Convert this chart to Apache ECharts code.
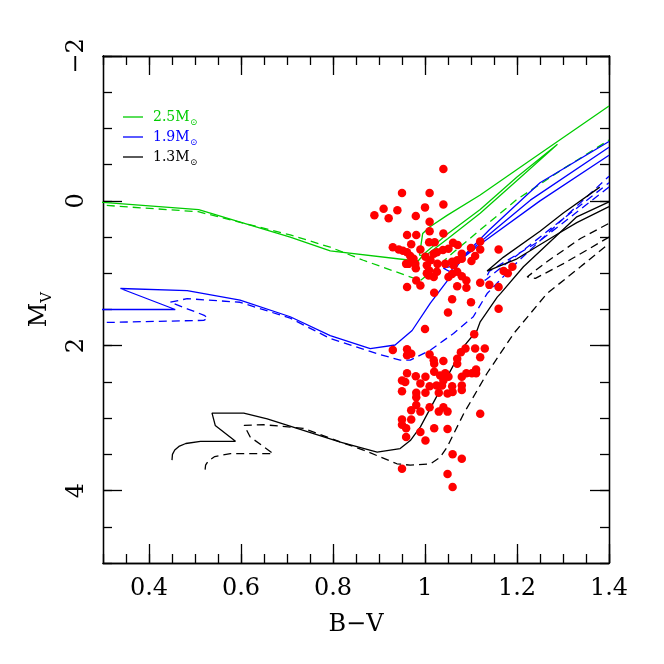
<!DOCTYPE html>
<html><head><meta charset="utf-8">
<script src="https://cdn.jsdelivr.net/npm/echarts@6/dist/echarts.min.js"></script>
<style>html,body{margin:0;padding:0;background:#fff}#c{width:664px;height:664px}</style>
</head><body><div id="c"></div>
<script>
// ---- tick labels ----
const xMajorTicks = [0.4, 0.6, 0.8, 1.0, 1.2, 1.4];
const yMajorTicks = [-2, 0, 2, 4];

// ---- evolutionary tracks [B-V, M_V] ----
const track25Solid = [[0.28,0.01],[0.3,0.02],[0.508,0.12],[0.707,0.50],[0.794,0.69],[0.968,0.82],[0.985,0.83],[1.0,0.72],[1.05,0.45],[1.12,0.12],[1.2,-0.33],[1.288,-0.78],[1.2,-0.28],[1.12,0.17],[1.05,0.52],[1.0,0.76],[0.988,0.75],[0.995,0.45],[1.01,0.36],[1.048,0.20],[1.12,-0.08],[1.229,-0.56],[1.4,-1.31]];
const track25Dashed = [[0.28,0.05],[0.3,0.06],[0.507,0.15],[0.707,0.47],[0.794,0.64],[0.866,0.82],[0.99,1.10],[1.02,0.95],[1.06,0.72],[1.12,0.40],[1.2,-0.02],[1.3,-0.44],[1.4,-0.84]];
const track19Solid = [[0.28,1.50],[0.3,1.50],[0.457,1.50],[0.338,1.21],[0.483,1.24],[0.598,1.37],[0.707,1.60],[0.794,1.86],[0.881,2.04],[0.935,1.99],[0.972,1.79],[1.012,1.41],[1.055,1.05],[1.083,0.77],[1.142,0.45],[1.229,-0.01],[1.4,-0.74]];
const track19SolidLoop = [[1.4,-0.63],[1.25,0.0],[1.12,0.60],[1.06,0.90],[1.04,0.93],[1.055,0.98],[1.07,0.85],[1.14,0.40],[1.25,-0.25],[1.4,-0.82]];
const track19Dashed = [[0.28,1.68],[0.3,1.68],[0.519,1.65],[0.528,1.62],[0.52,1.58],[0.483,1.49],[0.446,1.40],[0.483,1.35],[0.598,1.40],[0.707,1.62],[0.794,1.90],[0.896,2.11],[0.946,2.20],[0.968,2.20],[1.012,2.06],[1.062,1.83],[1.105,1.60],[1.135,1.28],[1.2,0.85],[1.3,0.25],[1.4,-0.34]];
const track19DashedLoop = [[1.4,-0.19],[1.25,0.55],[1.14,0.97],[1.13,1.10],[1.14,1.05],[1.2,0.75],[1.3,0.25],[1.4,-0.25]];
const track13Solid = [[0.45,3.58],[0.451,3.50],[0.456,3.44],[0.465,3.39],[0.48,3.35],[0.512,3.32],[0.588,3.32],[0.544,3.10],[0.537,2.93],[0.606,2.93],[0.657,3.01],[0.816,3.33],[0.896,3.47],[0.946,3.42],[0.968,3.31],[0.99,3.12],[1.033,2.61],[1.083,2.02],[1.113,1.79],[1.12,1.67],[1.157,1.33],[1.164,1.28],[1.214,0.91],[1.33,0.22],[1.4,0.015]];
const track13SolidLoop = [[1.4,0.08],[1.33,0.30],[1.29,0.45],[1.2,0.80],[1.135,0.97],[1.17,0.78],[1.25,0.42],[1.3,0.17],[1.38,-0.19]];
const track13Dashed = [[0.522,3.71],[0.523,3.65],[0.529,3.59],[0.543,3.53],[0.577,3.49],[0.67,3.49],[0.62,3.26],[0.607,3.10],[0.649,3.09],[0.735,3.14],[0.816,3.33],[0.866,3.44],[0.939,3.63],[0.968,3.65],[1.012,3.63],[1.033,3.54],[1.048,3.40],[1.084,2.94],[1.135,2.38],[1.193,1.83],[1.265,1.28],[1.338,0.91],[1.4,0.59]];
const track13DashedLoop = [[1.4,0.50],[1.36,0.65],[1.3,0.87],[1.24,1.07],[1.222,1.05],[1.265,0.84],[1.338,0.52],[1.4,0.31]];

// ---- observed stars [B-V, M_V] ----
const starsClump = [[1.040,-0.44],[0.950,-0.11],[1.010,-0.11],[0.910,0.11],[0.890,0.20],[0.940,0.13],[0.921,0.24],[0.980,0.21],[1.000,0.09],[1.040,0.05],[1.010,0.29],
[0.961,0.47],[0.981,0.47],[1.010,0.42],[1.040,0.45],[0.970,0.60],[0.930,0.64],[0.943,0.67],[0.952,0.69],[0.961,0.71],[0.990,0.67],[1.009,0.57],[1.021,0.57],[1.061,0.58],[1.071,0.61],[1.051,0.66],[1.039,0.68],[1.026,0.71],[1.019,0.73],
[0.968,0.76],[0.975,0.80],[0.964,0.87],[0.959,0.87],[0.979,0.87],[1.001,0.77],[1.012,0.82],[1.004,0.89],[0.980,0.93],
[1.080,0.73],[1.070,0.82],[1.059,0.84],[1.044,0.87],[1.027,0.87],[1.062,0.89],[1.080,0.80],[1.100,0.65],[1.120,0.56],[1.120,0.67],[1.109,0.76],[1.101,0.83],[1.160,0.67],
[1.009,0.96],[1.004,1.00],[1.008,1.03],[1.026,0.98],[1.019,1.05],[1.051,1.05],[1.059,1.01],[1.070,0.98],[1.080,1.04],[1.090,1.10],[1.070,1.18],[1.090,1.20],[1.120,1.13],[1.140,1.16],[1.160,1.19],[1.171,0.97],[1.180,1.00],[1.190,0.91],
[0.981,1.10],[0.990,1.17],[0.961,1.19],[1.020,1.27],[1.059,1.36],[1.100,1.40],[1.050,1.54],[1.160,1.49],[1.000,1.77],[1.107,1.84]];
const starsSubgiant = [[0.930,2.06],[0.961,2.05],[0.970,2.11],[0.961,2.13],[1.010,2.12],[1.019,2.20],[1.040,2.21],[1.020,2.25],[1.070,2.18],[1.078,2.09],[1.088,2.04],[1.109,2.04],[1.130,2.04],[1.120,2.16],[1.070,2.25],
[0.961,2.38],[0.980,2.42],[1.001,2.43],[1.020,2.36],[1.033,2.41],[1.044,2.38],[1.051,2.43],[1.040,2.48],[0.950,2.48],[0.957,2.50],[0.990,2.52],[1.010,2.56],[1.025,2.55],[1.037,2.55],[1.059,2.56],[1.080,2.55],[1.080,2.43],[1.090,2.38],[1.102,2.38],[1.111,2.33],[1.111,2.38],[1.080,2.61],
[0.950,2.63],[0.981,2.65],[1.001,2.65],[1.030,2.65],[1.049,2.66],[1.060,2.64],[0.981,2.71],[0.981,2.82],[1.010,2.85],[0.990,2.91],[0.970,2.89],[1.030,2.91],[1.040,2.85],[1.049,2.91],
[0.950,3.02],[0.970,3.02],[0.950,3.09],[0.959,3.14],[0.959,3.26],[0.990,3.19],[1.001,3.31],[1.020,3.14],[1.049,3.15],[1.120,2.94],[1.060,3.50],[1.080,3.56],[0.950,3.70],[1.049,3.77],[1.060,3.95]];

const legendLabels = ['2.5M', '1.9M', '1.3M'];
const GREEN = '#00cc00', BLUE = '#0000ff', BLACK = '#000000', RED = '#ff0000';
const FONT = '"DejaVu Serif", serif';

function xAxisDef(pos, major) {
  const a = {
    type: 'value', min: 0.3, max: 1.4, position: pos,
    axisLine: { show: true, onZero: false, lineStyle: { color: '#000', width: 1.3 } },
    axisTick: { show: true, inside: true, length: major ? 19 : 9, lineStyle: { color: '#000', width: 1.3 } },
    axisLabel: { show: false },
    splitLine: { show: false }
  };
  if (major) {
    a.axisTick.customValues = xMajorTicks;
    a.axisLabel = { show: pos === 'bottom', customValues: xMajorTicks, color: '#000', fontFamily: FONT, fontSize: 24, margin: 14,
      formatter: v => String(Math.round(v * 10) / 10) };
    if (pos === 'bottom') {
      a.name = 'B\u2212V'; a.nameLocation = 'middle'; a.nameGap = 50;
      a.nameTextStyle = { color: '#000', fontFamily: FONT, fontSize: 24 };
    }
  } else {
    a.interval = 0.05;
  }
  return a;
}
function yAxisDef(pos, major) {
  const a = {
    type: 'value', min: -2, max: 5, inverse: true, position: pos,
    axisLine: { show: true, onZero: false, lineStyle: { color: '#000', width: 1.3 } },
    axisTick: { show: true, inside: true, length: major ? 19 : 9, lineStyle: { color: '#000', width: 1.3 } },
    axisLabel: { show: false },
    splitLine: { show: false }
  };
  if (major) {
    a.axisTick.customValues = yMajorTicks;
    a.axisLabel = { show: pos === 'left', customValues: yMajorTicks, rotate: 90, color: '#000', fontFamily: FONT, fontSize: 24, margin: 14,
      formatter: v => v < 0 ? '\u2212' + (-v) : String(v) };
    if (pos === 'left') {
      a.name = 'M{v|V}'; a.nameLocation = 'middle'; a.nameGap = 48; a.nameRotate = 90;
      a.nameTextStyle = { color: '#000', fontFamily: FONT, fontSize: 24, lineHeight: 30,
        rich: { v: { fontFamily: FONT, fontSize: 15, lineHeight: 12, verticalAlign: 'bottom', color: '#000' } } };
    }
  } else {
    a.interval = 0.5;
  }
  return a;
}

function lineSeries(data, color, dashed) {
  return { type: 'line', data: data, xAxisIndex: 0, yAxisIndex: 0, showSymbol: false, symbol: 'none',
    lineStyle: { color: color, width: 1.3, type: dashed ? [8, 5] : 'solid' }, silent: true, animation: false, z: 2 };
}

const chart = echarts.init(document.getElementById('c'), null, { renderer: 'canvas' });
const legendColors = [GREEN, BLUE, BLACK];
const legendY = [117, 137, 157];
const graphics = [];
legendLabels.forEach((t, i) => {
  graphics.push({ type: 'line', shape: { x1: 123, y1: legendY[i], x2: 143, y2: legendY[i] }, style: { stroke: legendColors[i], lineWidth: 1.3 } });
  graphics.push({ type: 'text', x: 153, y: legendY[i], style: { text: t, fill: legendColors[i], font: '14px ' + FONT, verticalAlign: 'middle' } });
  graphics.push({ type: 'text', x: 190, y: legendY[i] + 6, style: { text: '\u2299', fill: legendColors[i], font: '9px ' + FONT, verticalAlign: 'middle' } });
});

chart.setOption({
  animation: false,
  backgroundColor: '#fff',
  grid: { left: 103, right: 55, top: 56, bottom: 101, containLabel: false },
  xAxis: [xAxisDef('bottom', true), xAxisDef('bottom', false), xAxisDef('top', true), xAxisDef('top', false)],
  yAxis: [yAxisDef('left', true), yAxisDef('left', false), yAxisDef('right', true), yAxisDef('right', false)],
  graphic: graphics,
  series: [
    lineSeries(track25Solid, GREEN, false),
    lineSeries(track25Dashed, GREEN, true),
    lineSeries(track19Solid, BLUE, false),
    lineSeries(track19SolidLoop, BLUE, false),
    lineSeries(track19Dashed, BLUE, true),
    lineSeries(track19DashedLoop, BLUE, true),
    lineSeries(track13Solid, BLACK, false),
    lineSeries(track13SolidLoop, BLACK, false),
    lineSeries(track13Dashed, BLACK, true),
    lineSeries(track13DashedLoop, BLACK, true),
    { type: 'scatter', data: starsClump, symbolSize: 8.5, itemStyle: { color: RED, opacity: 1 }, z: 3, silent: true },
    { type: 'scatter', data: starsSubgiant, symbolSize: 8.5, itemStyle: { color: RED, opacity: 1 }, z: 3, silent: true }
  ]
});
</script></body></html>
